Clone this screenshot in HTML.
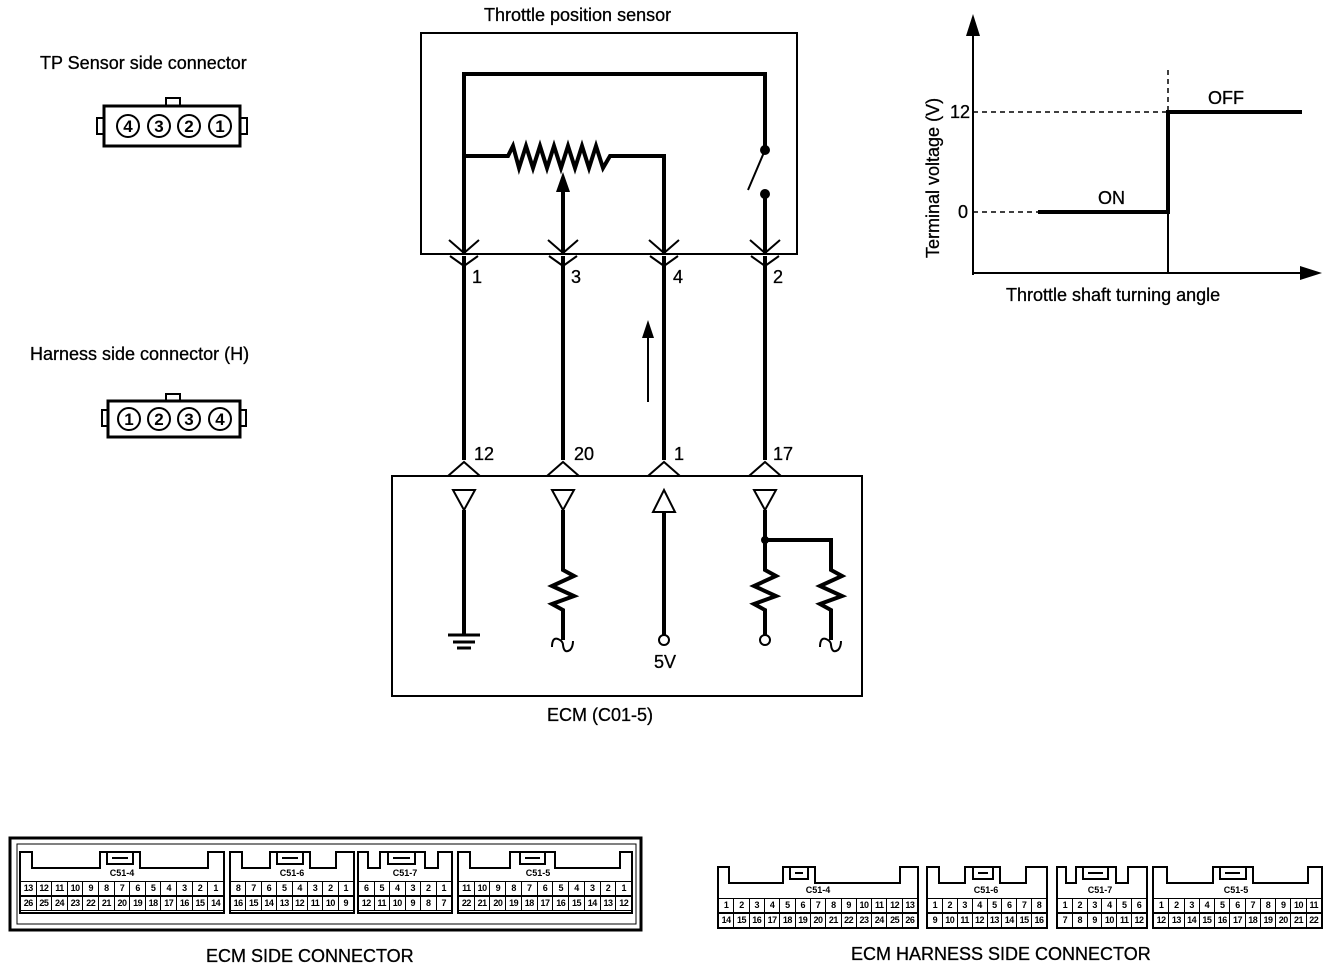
<!DOCTYPE html>
<html><head><meta charset="utf-8"><style>
body{margin:0;background:#fff;width:1344px;height:968px;position:relative;overflow:hidden;font-family:"Liberation Sans",sans-serif;}
svg{position:absolute;left:0;top:0}
.r{position:absolute;display:flex;height:15px;border:1.5px solid #000;box-sizing:border-box;background:#fff}
.r span{flex:1;border-left:1.5px solid #000;font-size:9px;font-weight:bold;text-align:center;line-height:13px;letter-spacing:-0.5px}
.r span:first-child{border-left:none}
</style></head><body>
<svg width="1344" height="968" viewBox="0 0 1344 968" font-family="Liberation Sans, sans-serif">
<g fill="none" stroke="#000">
<rect x="421" y="33" width="376" height="221" stroke-width="2"/>
<g stroke-width="4">
<polyline points="464,254 464,74 765,74 765,150"/>
<line x1="765" y1="194" x2="765" y2="254"/>
<polyline points="464,156 508,156 513,146 519,168 526,146 533,168 540,146 547,168 554,146 561,168 568,146 575,168 582,146 589,168 596,146 603,168 610,156 664,156 664,254"/>
<line x1="563" y1="254" x2="563" y2="190"/>
<line x1="464" y1="256" x2="464" y2="460"/>
<line x1="563" y1="256" x2="563" y2="460"/>
<line x1="664" y1="256" x2="664" y2="460"/>
<line x1="765" y1="256" x2="765" y2="460"/>
</g>
<line x1="765" y1="150" x2="748" y2="190" stroke-width="2"/>
<g stroke-width="2">
<polyline points="449,240 464,253 479,240"/><polyline points="450,256 464,266 478,256"/>
<polyline points="548,240 563,253 578,240"/><polyline points="549,256 563,266 577,256"/>
<polyline points="649,240 664,253 679,240"/><polyline points="650,256 664,266 678,256"/>
<polyline points="750,240 765,253 780,240"/><polyline points="751,256 765,266 779,256"/>
<polyline points="448,476 464,462 480,476"/>
<polyline points="547,476 563,462 579,476"/>
<polyline points="648,476 664,462 680,476"/>
<polyline points="749,476 765,462 781,476"/>
</g>
<rect x="392" y="476" width="470" height="220" stroke-width="2"/>
<g stroke-width="2">
<polygon points="453,490 475,490 464,510"/>
<polygon points="552,490 574,490 563,510"/>
<polygon points="653,512 675,512 664,490"/>
<polygon points="754,490 776,490 765,510"/>
</g>
<g stroke-width="4">
<line x1="464" y1="510" x2="464" y2="634"/>
<polyline points="563,510 563,570 574,576 552,586 574,596 552,604 563,610 563,640"/>
<line x1="664" y1="512" x2="664" y2="635"/>
<polyline points="765,510 765,570 776,576 754,586 776,596 754,604 765,610 765,635"/>
<polyline points="765,540 831,540 831,570 842,576 820,586 842,596 820,604 831,610 831,640"/>
</g>
<g stroke-width="3">
<line x1="448" y1="635" x2="480" y2="635"/><line x1="453" y1="642" x2="475" y2="642"/><line x1="457" y1="648" x2="471" y2="648"/>
</g>
<g stroke-width="2">
<path d="M552,647 Q552,637 558,639 Q563,641 563,645 Q564,654 570,650 Q573,647 573,641"/>
<path d="M820,647 Q820,637 826,639 Q831,641 831,645 Q832,654 838,650 Q841,647 841,641"/>
<circle cx="664" cy="640" r="5"/><circle cx="765" cy="640" r="5"/>
</g>
<line x1="648" y1="402" x2="648" y2="335" stroke-width="2"/>
<g stroke-width="2">
<line x1="973" y1="275" x2="973" y2="28"/>
<line x1="973" y1="273" x2="1305" y2="273"/>
<line x1="1168" y1="212" x2="1168" y2="273"/>
</g>
<g stroke-width="1.5" stroke-dasharray="5,4">
<line x1="973" y1="112" x2="1168" y2="112"/>
<line x1="973" y1="212" x2="1038" y2="212"/>
<line x1="1168" y1="70" x2="1168" y2="112"/>
</g>
<polyline points="1038,212 1168,212 1168,112 1302,112" stroke-width="4"/>
<g stroke-width="3">
<rect x="104" y="106" width="136" height="40"/>
<rect x="108" y="401" width="132" height="36"/>
</g>
<g stroke-width="2">
<rect x="166" y="98" width="14" height="8"/><rect x="97" y="118" width="7" height="16"/><rect x="240" y="118" width="7" height="16"/>
<rect x="166" y="394" width="14" height="7"/><rect x="102" y="410" width="6" height="16"/><rect x="240" y="410" width="6" height="16"/>
<circle cx="128" cy="126" r="11"/><circle cx="159" cy="126" r="11"/><circle cx="189" cy="126" r="11"/><circle cx="220" cy="126" r="11"/>
<circle cx="129" cy="419" r="11"/><circle cx="159" cy="419" r="11"/><circle cx="189" cy="419" r="11"/><circle cx="220" cy="419" r="11"/>
</g>
<rect x="10" y="838" width="631" height="92" stroke-width="3"/>
<rect x="17" y="844" width="619" height="80" stroke-width="1"/>
<g stroke-width="2">
<path d="M20,913 V852 H32 V868 H100 V852 H140 V868 H208 V852 H224 V913 Z"/>
<path d="M107,852 V864 H133 V852 M112,858 H128"/>
<path d="M230,913 V852 H242 V868 H270 V852 H310 V868 H336 V852 H354 V913 Z"/>
<path d="M277,852 V864 H303 V852 M282,858 H298"/>
<path d="M358,913 V852 H368 V868 H380 V852 H425 V868 H438 V852 H452 V913 Z"/>
<path d="M388,852 V864 H415 V852 M393,858 H410"/>
<path d="M458,913 V852 H470 V868 H510 V852 H555 V868 H620 V852 H632 V913 Z"/>
<path d="M520,852 V864 H545 V852 M525,858 H540"/>
<path d="M718,928 V867 H729 V883 H783 V867 H815 V883 H900 V867 H918 V928 Z"/>
<path d="M790,867 V879 H808 V867 M795,873 H803"/>
<path d="M927,928 V867 H939 V883 H965 V867 H1000 V883 H1026 V867 H1047 V928 Z"/>
<path d="M973,867 V879 H993 V867 M978,873 H988"/>
<path d="M1057,928 V867 H1066 V883 H1076 V867 H1116 V883 H1128 V867 H1147 V928 Z"/>
<path d="M1083,867 V879 H1108 V867 M1088,873 H1103"/>
<path d="M1153,928 V867 H1167 V883 H1213 V867 H1253 V883 H1308 V867 H1322 V928 Z"/>
<path d="M1220,867 V879 H1246 V867 M1225,873 H1240"/>
</g>
</g>
<g fill="#000">
<circle cx="765" cy="150" r="5"/><circle cx="765" cy="194" r="5"/><circle cx="765" cy="540" r="4"/>
<polygon points="563,172 556,192 570,192"/>
<polygon points="648,320 642,338 654,338"/>
<polygon points="973,14 966,36 980,36"/>
<polygon points="1322,273 1300,266 1300,280"/>
</g>
<g font-size="18" fill="#000" stroke="#000" stroke-width="0.3">
<text x="484" y="21">Throttle position sensor</text>
<text x="40" y="69">TP Sensor side connector</text>
<text x="30" y="360">Harness side connector (H)</text>
<text x="472" y="283">1</text><text x="571" y="283">3</text><text x="673" y="283">4</text><text x="773" y="283">2</text>
<text x="474" y="460">12</text><text x="574" y="460">20</text><text x="674" y="460">1</text><text x="773" y="460">17</text>
<text x="654" y="668">5V</text>
<text x="547" y="721">ECM (C01-5)</text>
<text x="970" y="118" text-anchor="end">12</text><text x="968" y="218" text-anchor="end">0</text>
<text x="1098" y="204">ON</text><text x="1208" y="104">OFF</text>
<text x="1006" y="301">Throttle shaft turning angle</text>
<text transform="translate(939,258) rotate(-90)">Terminal voltage (V)</text>
<text x="206" y="962">ECM SIDE CONNECTOR</text>
<text x="851" y="960">ECM HARNESS SIDE CONNECTOR</text>
</g>
<g font-size="17" font-weight="bold" text-anchor="middle">
<text x="128" y="132">4</text><text x="159" y="132">3</text><text x="189" y="132">2</text><text x="220" y="132">1</text>
<text x="129" y="425">1</text><text x="159" y="425">2</text><text x="189" y="425">3</text><text x="220" y="425">4</text>
</g>
<g font-size="9" font-weight="bold" text-anchor="middle">
<text x="122" y="876">C51-4</text><text x="292" y="876">C51-6</text><text x="405" y="876">C51-7</text><text x="538" y="876">C51-5</text>
<text x="818" y="893">C51-4</text><text x="986" y="893">C51-6</text><text x="1100" y="893">C51-7</text><text x="1236" y="893">C51-5</text>
</g>
</svg>
<div class="r" style="left:20px;top:881px;width:204px"><span>13</span><span>12</span><span>11</span><span>10</span><span>9</span><span>8</span><span>7</span><span>6</span><span>5</span><span>4</span><span>3</span><span>2</span><span>1</span></div>
<div class="r" style="left:20px;top:896px;width:204px"><span>26</span><span>25</span><span>24</span><span>23</span><span>22</span><span>21</span><span>20</span><span>19</span><span>18</span><span>17</span><span>16</span><span>15</span><span>14</span></div>
<div class="r" style="left:230px;top:881px;width:124px"><span>8</span><span>7</span><span>6</span><span>5</span><span>4</span><span>3</span><span>2</span><span>1</span></div>
<div class="r" style="left:230px;top:896px;width:124px"><span>16</span><span>15</span><span>14</span><span>13</span><span>12</span><span>11</span><span>10</span><span>9</span></div>
<div class="r" style="left:358px;top:881px;width:94px"><span>6</span><span>5</span><span>4</span><span>3</span><span>2</span><span>1</span></div>
<div class="r" style="left:358px;top:896px;width:94px"><span>12</span><span>11</span><span>10</span><span>9</span><span>8</span><span>7</span></div>
<div class="r" style="left:458px;top:881px;width:174px"><span>11</span><span>10</span><span>9</span><span>8</span><span>7</span><span>6</span><span>5</span><span>4</span><span>3</span><span>2</span><span>1</span></div>
<div class="r" style="left:458px;top:896px;width:174px"><span>22</span><span>21</span><span>20</span><span>19</span><span>18</span><span>17</span><span>16</span><span>15</span><span>14</span><span>13</span><span>12</span></div>
<div class="r" style="left:718px;top:898px;width:200px"><span>1</span><span>2</span><span>3</span><span>4</span><span>5</span><span>6</span><span>7</span><span>8</span><span>9</span><span>10</span><span>11</span><span>12</span><span>13</span></div>
<div class="r" style="left:718px;top:913px;width:200px"><span>14</span><span>15</span><span>16</span><span>17</span><span>18</span><span>19</span><span>20</span><span>21</span><span>22</span><span>23</span><span>24</span><span>25</span><span>26</span></div>
<div class="r" style="left:927px;top:898px;width:120px"><span>1</span><span>2</span><span>3</span><span>4</span><span>5</span><span>6</span><span>7</span><span>8</span></div>
<div class="r" style="left:927px;top:913px;width:120px"><span>9</span><span>10</span><span>11</span><span>12</span><span>13</span><span>14</span><span>15</span><span>16</span></div>
<div class="r" style="left:1057px;top:898px;width:90px"><span>1</span><span>2</span><span>3</span><span>4</span><span>5</span><span>6</span></div>
<div class="r" style="left:1057px;top:913px;width:90px"><span>7</span><span>8</span><span>9</span><span>10</span><span>11</span><span>12</span></div>
<div class="r" style="left:1153px;top:898px;width:169px"><span>1</span><span>2</span><span>3</span><span>4</span><span>5</span><span>6</span><span>7</span><span>8</span><span>9</span><span>10</span><span>11</span></div>
<div class="r" style="left:1153px;top:913px;width:169px"><span>12</span><span>13</span><span>14</span><span>15</span><span>16</span><span>17</span><span>18</span><span>19</span><span>20</span><span>21</span><span>22</span></div>
</body></html>
